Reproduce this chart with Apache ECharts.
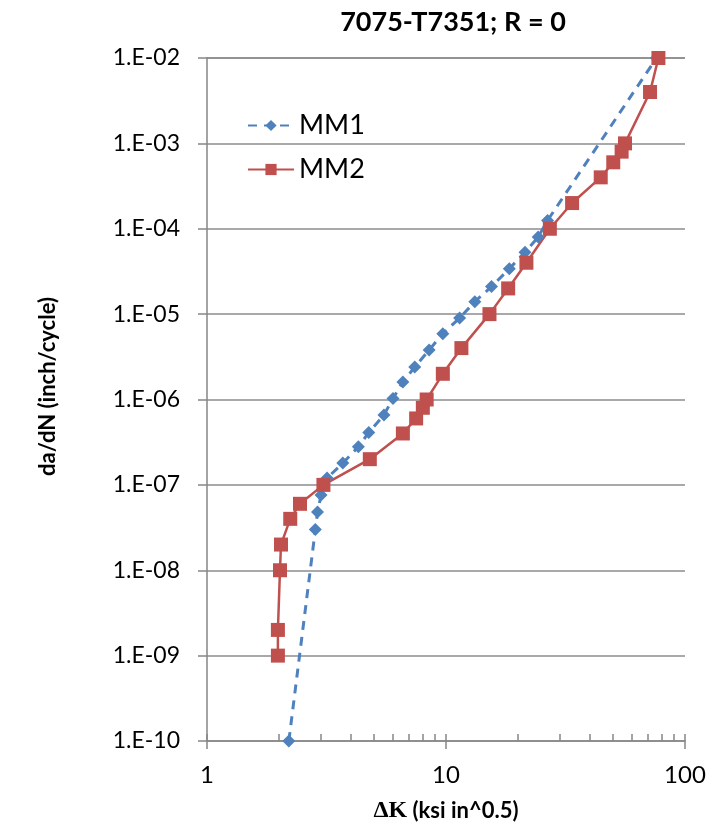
<!DOCTYPE html>
<html>
<head>
<meta charset="utf-8">
<script src="https://cdn.jsdelivr.net/npm/echarts@6/dist/echarts.min.js"></script>
<style>
  html, body { margin: 0; padding: 0; background: #fff; }
  #chart { width: 717px; height: 834px; }
</style>
</head>
<body>
<div id="chart"></div>
<script>
// MM1 - delta K (ksi in^0.5) and da/dN (inch/cycle)
var mm1K = [2.2, 2.84, 2.9, 3.0, 3.18, 3.7, 4.3, 4.75, 5.5, 6.0, 6.6, 7.4, 8.5, 9.7, 11.4, 13.2, 15.5, 18.4, 21.4, 24.3, 26.6, 76];
var mm1Rate = [1e-10, 3e-8, 4.8e-8, 7.6e-8, 1.2e-7, 1.8e-7, 2.8e-7, 4.1e-7, 6.6e-7, 1.03e-6, 1.6e-6, 2.4e-6, 3.8e-6, 5.9e-6, 9e-6, 1.4e-5, 2.1e-5, 3.4e-5, 5.3e-5, 8e-5, 1.25e-4, 1e-2];

// MM2
var mm2K = [1.98, 1.98, 2.02, 2.04, 2.23, 2.45, 3.07, 4.8, 6.6, 7.5, 8.0, 8.3, 9.7, 11.6, 15.2, 18.2, 21.7, 27.2, 33.7, 44.4, 50.1, 54.3, 56.1, 71.4, 77.4];
var mm2Rate = [1e-9, 2e-9, 1e-8, 2e-8, 4e-8, 6e-8, 1e-7, 2e-7, 4e-7, 6e-7, 8e-7, 1e-6, 2e-6, 4e-6, 1e-5, 2e-5, 4e-5, 1e-4, 2e-4, 4e-4, 6e-4, 8e-4, 1e-3, 4e-3, 1e-2];

// small ticks on the x axis
var xMinorTicks = [1, 2, 3, 4, 5, 6, 7, 8, 9, 10, 20, 30, 40, 50, 60, 70, 80, 90, 100];

var FONT = 'Lato';

function pairs(xs, ys) {
  var out = [];
  for (var i = 0; i < xs.length; i++) out.push([xs[i], ys[i]]);
  return out;
}

function expLabel(v) {
  var e = Math.round(Math.log10(v));
  var a = Math.abs(e);
  return '1.E' + (e < 0 ? '-' : '+') + (a < 10 ? '0' + a : a);
}

var myChart = echarts.init(document.getElementById('chart'));

var option = {
  animation: false,
  backgroundColor: '#fff',
  title: {
    text: '7075-T7351; R = 0',
    left: 448,
    textAlign: 'center',
    top: 4,
    textStyle: { fontFamily: FONT, fontWeight: 'bold', fontSize: 27, color: '#000' }
  },
  legend: {
    orient: 'vertical',
    left: 242,
    top: 107,
    itemWidth: 46,
    itemHeight: 14,
    itemGap: 17,
    textStyle: { fontFamily: FONT, fontSize: 27, color: '#000' },
    data: ['MM1', 'MM2']
  },
  grid: { left: 207, right: 32, top: 58, bottom: 93 },
  xAxis: [{
    type: 'log',
    logBase: 10,
    min: 1,
    max: 100,
    name: '{d|ΔK} (ksi in^0.5)',
    nameLocation: 'middle',
    nameGap: 58,
    nameTextStyle: {
      fontFamily: FONT, fontWeight: 'bold', fontSize: 22, color: '#000',
      rich: { d: { fontFamily: 'Liberation Serif', fontWeight: 'bold', fontSize: 24, color: '#000' } }
    },
    axisLine: { lineStyle: { color: '#868686', width: 1.5 } },
    axisTick: { show: true, length: 8, lineStyle: { color: '#868686', width: 1.5 } },
    axisLabel: { fontFamily: FONT, fontSize: 24, color: '#000', margin: 22 },
    splitLine: { show: false }
  }, {
    type: 'log',
    logBase: 10,
    min: 1,
    max: 100,
    position: 'bottom',
    axisLine: { show: false },
    axisTick: { show: true, inside: true, length: 7, customValues: xMinorTicks, lineStyle: { color: '#868686', width: 1.5 } },
    axisLabel: { show: false },
    splitLine: { show: false }
  }],
  yAxis: {
    type: 'log',
    logBase: 10,
    min: 1e-10,
    max: 1e-2,
    splitNumber: 8,
    name: 'da/dN (inch/cycle)',
    nameLocation: 'middle',
    nameGap: 148,
    nameTextStyle: { fontFamily: FONT, fontWeight: 'bold', fontSize: 22, color: '#000', padding: [0, 0, 0, 26] },
    axisLine: { show: true, lineStyle: { color: '#868686', width: 1.5 } },
    axisTick: { show: true, length: 9, lineStyle: { color: '#868686', width: 1.5 } },
    axisLabel: { fontFamily: FONT, fontSize: 23, color: '#000', margin: 27, formatter: expLabel },
    splitLine: { show: true, lineStyle: { color: '#8c8c8c', width: 1.5 } }
  },
  series: [{
    name: 'MM1',
    type: 'line',
    xAxisIndex: 0,
    data: pairs(mm1K, mm1Rate),
    symbol: 'diamond',
    symbolSize: 13,
    color: '#4F81BD',
    lineStyle: { type: [9, 7], width: 3, color: '#4F81BD' },
    itemStyle: { color: '#4F81BD' }
  }, {
    name: 'MM2',
    type: 'line',
    xAxisIndex: 0,
    data: pairs(mm2K, mm2Rate),
    symbol: 'rect',
    symbolSize: 14,
    color: '#C0504D',
    lineStyle: { width: 2.5, color: '#C0504D' },
    itemStyle: { color: '#C0504D' }
  }]
};

myChart.setOption(option, true);
window.addEventListener('resize', function () { myChart.resize(); });
</script>
</body>
</html>
